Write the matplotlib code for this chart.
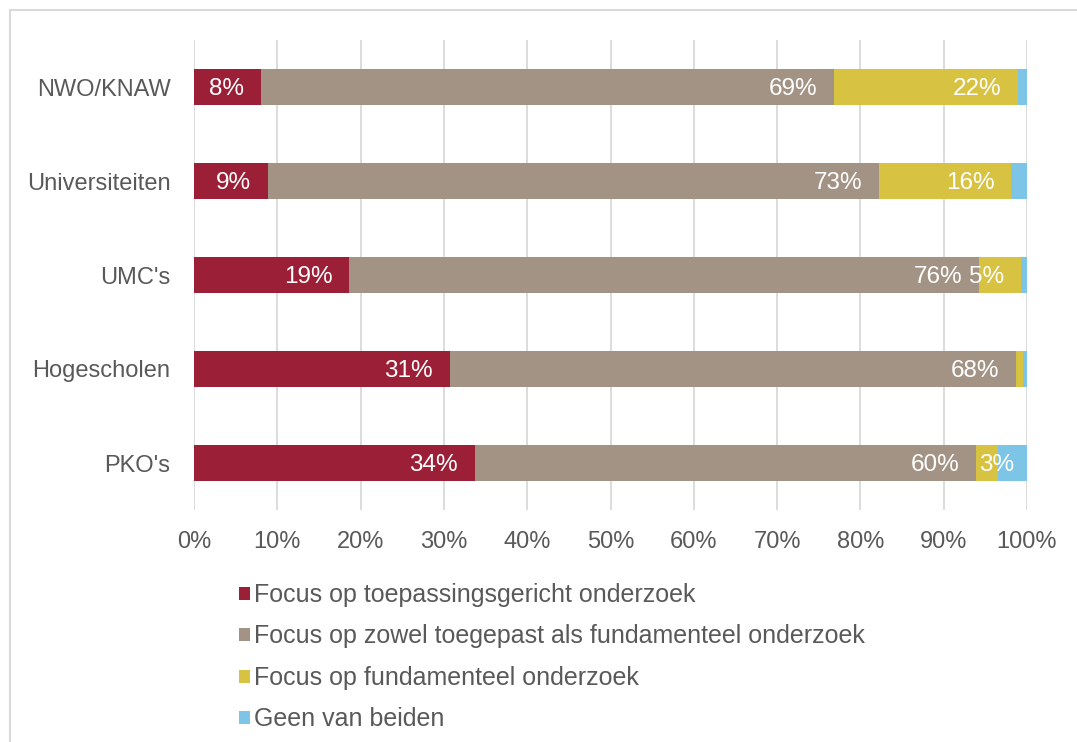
import numpy as np
import matplotlib
matplotlib.use("Agg")
import matplotlib.pyplot as plt
from matplotlib.patches import Patch, Rectangle

plt.rcParams['font.family'] = ['Liberation Sans', 'DejaVu Sans']

# data (shares per group, top to bottom)
groups = ["NWO/KNAW", "Universiteiten", "UMC's", "Hogescholen", "PKO's"]
series = ["Focus op toepassingsgericht onderzoek",
          "Focus op zowel toegepast als fundamenteel onderzoek",
          "Focus op fundamenteel onderzoek",
          "Geen van beiden"]
toepassing = [8.0, 8.9, 18.6, 30.7, 33.7]
zowel = [68.8, 73.3, 75.6, 68.0, 60.2]
fundamenteel = [22.1, 15.9, 5.1, 0.8, 2.6]
geen = [1.1, 1.9, 0.7, 0.5, 3.5]
values = [toepassing, zowel, fundamenteel, geen]
colors = ["#9B1F36", "#A39385", "#D8C242", "#7DC5E7"]
show_label = [True, True, True, False]
min_label = 2.0

xticks = np.arange(0, 101, 10)
text_col = "#595959"

W, H = 1077, 742
fig = plt.figure(figsize=(W / 100, H / 100), dpi=100)
ax = fig.add_axes([194 / W, 1 - 510 / H, (1027 - 194) / W, 470 / H])

# outer frame of the chart area
fig.patches.append(Rectangle((10 / W, -0.05), 1.1, 1 - 10 / H + 0.05,
                             transform=fig.transFigure, fill=False,
                             edgecolor="#D9D9D9", linewidth=1.5))

y = np.arange(len(groups))
left = np.zeros(len(groups))
bar_h = 0.39
for vals, col, name, lab in zip(values, colors, series, show_label):
    vals = np.array(vals)
    ax.barh(y, vals, left=left, height=bar_h, color=col, label=name, zorder=3)
    if lab:
        for yi, l, v in zip(y, left, vals):
            if v < min_label:
                continue
            txt = f"{v:.0f}%"
            if v < 4:
                ax.annotate(txt, (l, yi), xytext=(2, -1.5), textcoords="offset points",
                            ha="left", va="center", color="white", fontsize=17.5, zorder=4)
            else:
                ax.annotate(txt, (l + v, yi), xytext=(-12, -1.5), textcoords="offset points",
                            ha="right", va="center", color="white", fontsize=17.5, zorder=4)
    left += vals

ax.set_xlim(0, 100)
ax.set_ylim(len(groups) - 0.5, -0.5)
ax.set_yticks(y)
ax.set_yticklabels(groups)
ax.set_xticks(xticks)
ax.set_xticklabels([f"{t}%" for t in xticks])
ax.tick_params(axis="both", length=0, labelsize=17, labelcolor=text_col)
ax.tick_params(axis="y", pad=17)
ax.tick_params(axis="x", pad=15)
ax.grid(axis="x", color="#D9D9D9", linewidth=1.3, zorder=0)
for s in ax.spines.values():
    s.set_visible(False)

handles = [Patch(facecolor=c, label=n) for c, n in zip(colors, series)]
fig.legend(handles=handles, loc="upper left", bbox_to_anchor=(229 / W, 1 - 573 / H),
           frameon=False, fontsize=18, labelcolor=text_col, handlelength=0.42,
           handleheight=0.42, handletextpad=0.2, labelspacing=0.7, borderaxespad=0)

fig.savefig("out.png", dpi=100)
